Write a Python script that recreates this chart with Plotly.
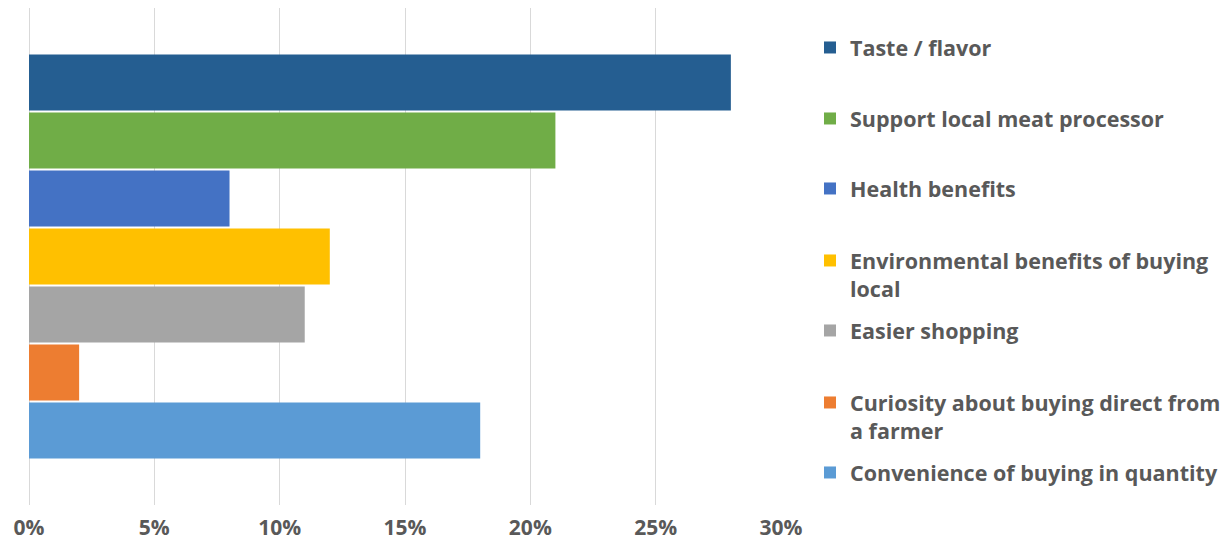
import plotly.graph_objects as go

labels = [
    "Taste / flavor",
    "Support local meat processor",
    "Health benefits",
    "Environmental benefits of buying<br>local",
    "Easier shopping",
    "Curiosity about buying direct from<br>a farmer",
    "Convenience of buying in quantity",
]
values = [0.28, 0.21, 0.08, 0.12, 0.11, 0.02, 0.18]
colors = ["#255E91", "#70AD47", "#4472C4", "#FFC000", "#A5A5A5", "#ED7D31", "#5B9BD5"]
x_ticks = [0, 0.05, 0.10, 0.15, 0.20, 0.25, 0.30]
x_tick_text = ["0%", "5%", "10%", "15%", "20%", "25%", "30%"]

W, H = 1228, 550
FONT = "Open Sans"
GREY = "#595959"

# first-line centers of legend entries (px from top)
legend_centers = [49, 120, 190, 262, 332, 404, 474]

fig = go.Figure()
layout_legends = {}
for i, (lab, v, c) in enumerate(zip(labels, values, colors)):
    lname = "legend" if i == 0 else f"legend{i+1}"
    fig.add_trace(go.Bar(
        x=[v], y=[0], orientation="h", name=lab,
        marker=dict(color=c, line=dict(width=0)),
        legend=lname, hoverinfo="skip",
    ))
    layout_legends[lname] = dict(
        x=810 / W, xref="container", xanchor="left",
        y=1 - (legend_centers[i] - 22) / H, yref="container", yanchor="top",
        font=dict(family=FONT, size=21.5, color=GREY, weight="bold"),
        bgcolor="rgba(0,0,0,0)", borderwidth=0, valign="top",
        itemclick=False, itemdoubleclick=False,
    )

fig.update_layout(
    width=W, height=H,
    margin=dict(l=29, r=W - 781, t=8, b=H - 505),
    paper_bgcolor="white", plot_bgcolor="white",
    barmode="group", bargap=0.183, bargroupgap=0.034,
    showlegend=True,
    xaxis=dict(range=[0, 0.30], tickvals=x_ticks, ticktext=x_tick_text,
               showgrid=True, gridcolor="#D9D9D9", gridwidth=1,
               zeroline=True, zerolinecolor="#D9D9D9", zerolinewidth=1,
               showline=False, ticks="", ticklabelstandoff=8,
               tickfont=dict(family=FONT, size=21, color=GREY, weight="bold")),
    yaxis=dict(range=[0.5, -0.5], showticklabels=False, showgrid=False,
               zeroline=False, showline=False, ticks=""),
    **layout_legends,
)

fig.write_html("out.html")
